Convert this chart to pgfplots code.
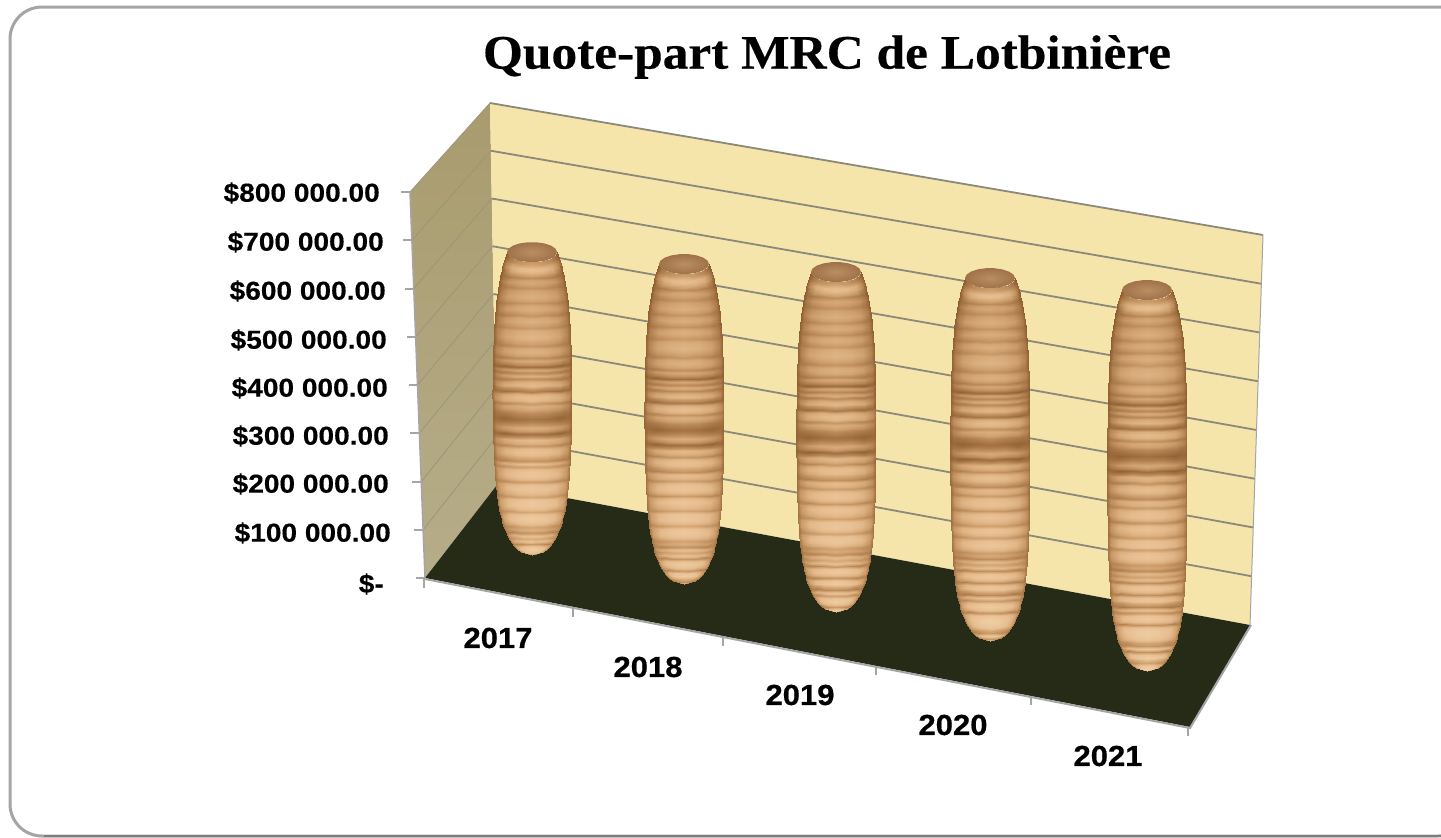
\documentclass[border=0pt]{standalone}
\usepackage{fontspec}
\setmainfont{Liberation Sans}
\newfontfamily\titlefont{Liberation Serif Bold}[FakeStretch=1.07,FakeBold=0.35]
\newfontfamily\valfont{Liberation Sans Bold}[FakeStretch=1.08,FakeBold=0.3]
\newfontfamily\yearfont{Liberation Sans Bold}[FakeStretch=1.07,FakeBold=0.6]
\usepackage{pgfplots}
\usepackage{pgfplotstable}
\pgfplotsset{compat=1.18}
\definecolor{wallb}{RGB}{245,229,170}
\definecolor{walls}{RGB}{168,155,110}
\definecolor{wallsb}{RGB}{182,173,137}
\definecolor{floorc}{RGB}{38,43,23}
\definecolor{gridc}{RGB}{140,136,122}
\definecolor{gridd}{RGB}{156,149,122}
\definecolor{edgec}{RGB}{165,165,165}
\definecolor{framec}{RGB}{165,165,165}
\definecolor{framed}{RGB}{125,125,125}
\definecolor{capa}{RGB}{186,142,98}
\definecolor{capb}{RGB}{160,114,74}
% Yearly amounts (dollars) and where each barrel stands on the floor (picture units)
\pgfplotstableread{
year value cx yb
2017 592000 532 555
2018 627000 684 584
2019 668000 836 612
2020 715000 990 641
2021 752000 1147 671
}\shares
\def\stripes{{.90,.90,.90,.92,.96,1.06,1.18,1.18,1.08,.96,.84,.95,1.0,.94,.86,.96,1.0,1.02,.96,.86,.97,1.0,.92,.84,.97,1.0,.93,.86,.98,1.0,1.02,.97,.90,.82,.95,.98,.92,.78,.92,.80,.62,.90,.75,.94,.75,.94,1.0,.80,.66,.95,1.02,.98,.78,.92,.85,.72,.66,.60,.66,.76,.88,.78,.58,.72,.95,.90,.75,.95,1.0,.95,.82,.72,.95,.92,.78,.96,1.0,1.0,.92,.75,.95,1.0,.96,.90,.78,.98,1.0,1.0,.92,.78,.96,1.0,.98,.90,.75,.80,.68,.90,.78,.92,.68,.95,1.0,.9,.68,.95,.98,.78,.64,.92,.72,.95,1.0,.92,.68,.95,1.0,1.0,.98,.92,.75,.68,.95,.66,.92,1.0,.82,.72,.95,1.0,.95,.95,.95,.95}}
\newcommand\buildbarrel[1]{%
  \pgfplotstablegetelem{#1}{value}\of\shares\edef\bval{\pgfplotsretval}%
  \pgfplotstablegetelem{#1}{cx}\of\shares\edef\bcx{\pgfplotsretval}%
  \pgfplotstablegetelem{#1}{yb}\of\shares\edef\byb{\pgfplotsretval}%
  \edef\bH{\fpeval{\bval*0.000488+24}}%
  \edef\btop{\fpeval{\byb-\bH}}%
  \edef\bN{\fpeval{floor((\bH-10)/3)}}%
  \gdef\acc{}%
  \foreach \r in {0,...,\bN}{%
    \edef\d{\fpeval{10+(\bH-10)*\r/\bN}}%
    \edef\db{\fpeval{max(\bH-\d,0)}}%
    \edef\h{\fpeval{min(40-15*exp(-(\d-10)/40),40*sqrt(1-exp(-\db/42)))}}%
    \ifdim\d pt<40pt \edef\e{\fpeval{10+(.08*\h-10)*(\d-10)/30}}%
    \else \edef\e{\fpeval{.08*\h}}\fi
    \pgfmathparse{\stripes[int(\fpeval{floor(\d/3)})]}\edef\st{\pgfmathresult}%
    \edef\L{\fpeval{.70+.28*\d/\bH}}%
    \foreach \s/\c/\li/\k in {-1/0/.60/.25,-.924/.383/.76/.6,-.707/.707/.92/1,-.383/.924/1/1,0/1/1.04/1,.383/.924/1/1,.707/.707/.92/1,.924/.383/.76/.6,1/0/.60/.25}{%
      \xdef\acc{\acc (\fpeval{round(\bcx+\h*\s,2)},\fpeval{round(\btop+\d+\e*\c,2)}) [\fpeval{round((1+(\st-1)*\k)*\L*\li,3)}] }%
    }%
  }%
  \expandafter\global\expandafter\let\csname barrel#1\endcsname\acc
  \gdef\cacc{}%
  \foreach \a in {0,20,...,340}{%
    \xdef\cacc{\cacc (\fpeval{round(\bcx+25*cosd(\a),2)},\fpeval{round(\btop+10+10*sind(\a),2)}) }%
  }%
  \expandafter\global\expandafter\let\csname cap#1\endcsname\cacc
}
\begin{document}
\buildbarrel{0}\buildbarrel{1}\buildbarrel{2}\buildbarrel{3}\buildbarrel{4}%
\begin{tikzpicture}
\begin{axis}[
  scale only axis, width=1441pt, height=838pt,
  xmin=0, xmax=1441, ymin=0, ymax=838, y dir=reverse,
  hide axis, no markers,
  colormap={wood}{rgb255(0)=(70,40,15); rgb255(40)=(135,85,40); rgb255(70)=(205,158,108); rgb255(85)=(228,186,140); rgb255(110)=(245,215,175)},
  point meta min=0, point meta max=1.1,
]
\addplot[draw=none] coordinates {(0,0) (1441,0) (1441,838) (0,838)};
% frame
\addplot[draw=framec, line width=3pt, fill=white, rounded corners=32pt] coordinates {(10,7) (1470,7) (1470,836) (10,836)} --cycle;
\addplot[draw=framed, line width=2.5pt] coordinates {(44,836) (1441,836)};
% walls and floor
\addplot[draw=none, top color=walls, bottom color=wallsb] coordinates {(410,192) (490,103) (497,485) (425,578)} --cycle;
\addplot[draw=none, fill=wallb] coordinates {(490,103) (1263,235) (1250,625) (497,485)} --cycle;
\addplot[draw=none, fill=floorc] coordinates {(425,578) (497,485) (1250,625) (1190,727)} --cycle;
% gridlines
\pgfplotsinvokeforeach{1,...,8}{%
  \edef\tmp{\noexpand\addplot[draw=gridd, line width=.8pt] coordinates {(\fpeval{425-15*#1/8},\fpeval{578-386*#1/8}) (\fpeval{497-7*#1/8},\fpeval{485-382*#1/8})};}\tmp
  \edef\tmp{\noexpand\addplot[draw=gridc, line width=1.8pt] coordinates {(\fpeval{497-7*#1/8},\fpeval{485-382*#1/8}) (\fpeval{1250+13*#1/8},\fpeval{625-390*#1/8})};}\tmp
}
% edges and ticks
\addplot[draw=edgec, line width=1.5pt] coordinates {(425,578) (410,192)};
\addplot[draw=edgec, line width=1pt] coordinates {(1263,235) (1250,625)};
\addplot[draw=edgec, line width=2pt] coordinates {(425,579) (1190,728) (1251,625)};
\pgfplotsinvokeforeach{0,...,8}{%
  \edef\tmp{\noexpand\addplot[draw=edgec, line width=2pt] coordinates {(\fpeval{425-15*#1/8-9},\fpeval{578-386*#1/8}) (\fpeval{425-15*#1/8},\fpeval{578-386*#1/8})};}\tmp
}
\addplot[draw=edgec, line width=2pt] coordinates {(424,578) (424,588)};
\addplot[draw=edgec, line width=2pt] coordinates {(573,608) (573,617)};
\addplot[draw=edgec, line width=2pt] coordinates {(723,637) (723,646)};
\addplot[draw=edgec, line width=2pt] coordinates {(876,666) (876,675)};
\addplot[draw=edgec, line width=2pt] coordinates {(1031,696) (1031,705)};
\addplot[draw=edgec, line width=2pt] coordinates {(1188,727) (1188,736)};
% barrels
\pgfplotsinvokeforeach{0,1,2,3,4}{%
  \edef\tmp{\noexpand\addplot[surf, shader=interp, mesh/cols=9, mesh/check=false, point meta=explicit] coordinates {\csname barrel#1\endcsname};}\tmp
  \edef\tmp{\noexpand\addplot[draw=none, inner color=capa, outer color=capb] coordinates {\csname cap#1\endcsname} --cycle;}\tmp
}
% labels
\node[font=\titlefont\fontsize{48}{50}\selectfont, anchor=center] at (axis cs:827,57) {Quote-part MRC de Lotbinière};
\foreach \yy/\rr/\tt in {193/380/\$800 000.00,242/384/\$700 000.00,291/386/\$600 000.00,340/387/\$500 000.00,388/388/\$400 000.00,436/389/\$300 000.00,484/389/\$200 000.00,533/391/\$100 000.00,584/384/\$-}{%
  \edef\tmp{\noexpand\node[font=\noexpand\valfont\noexpand\fontsize{26}{28}\noexpand\selectfont, anchor=east, inner sep=0pt] at (axis cs:\rr,\yy) {\expandafter\unexpanded\expandafter{\tt}};}\tmp
}
\foreach \xx/\yy/\tt in {498/638/2017,648/667/2018,800/695/2019,953/725/2020,1108/756/2021}{%
  \edef\tmp{\noexpand\node[font=\noexpand\yearfont\noexpand\fontsize{29}{31}\noexpand\selectfont, anchor=center, inner sep=0pt] at (axis cs:\xx,\yy) {\tt};}\tmp
}
\end{axis}
\end{tikzpicture}
\end{document}
